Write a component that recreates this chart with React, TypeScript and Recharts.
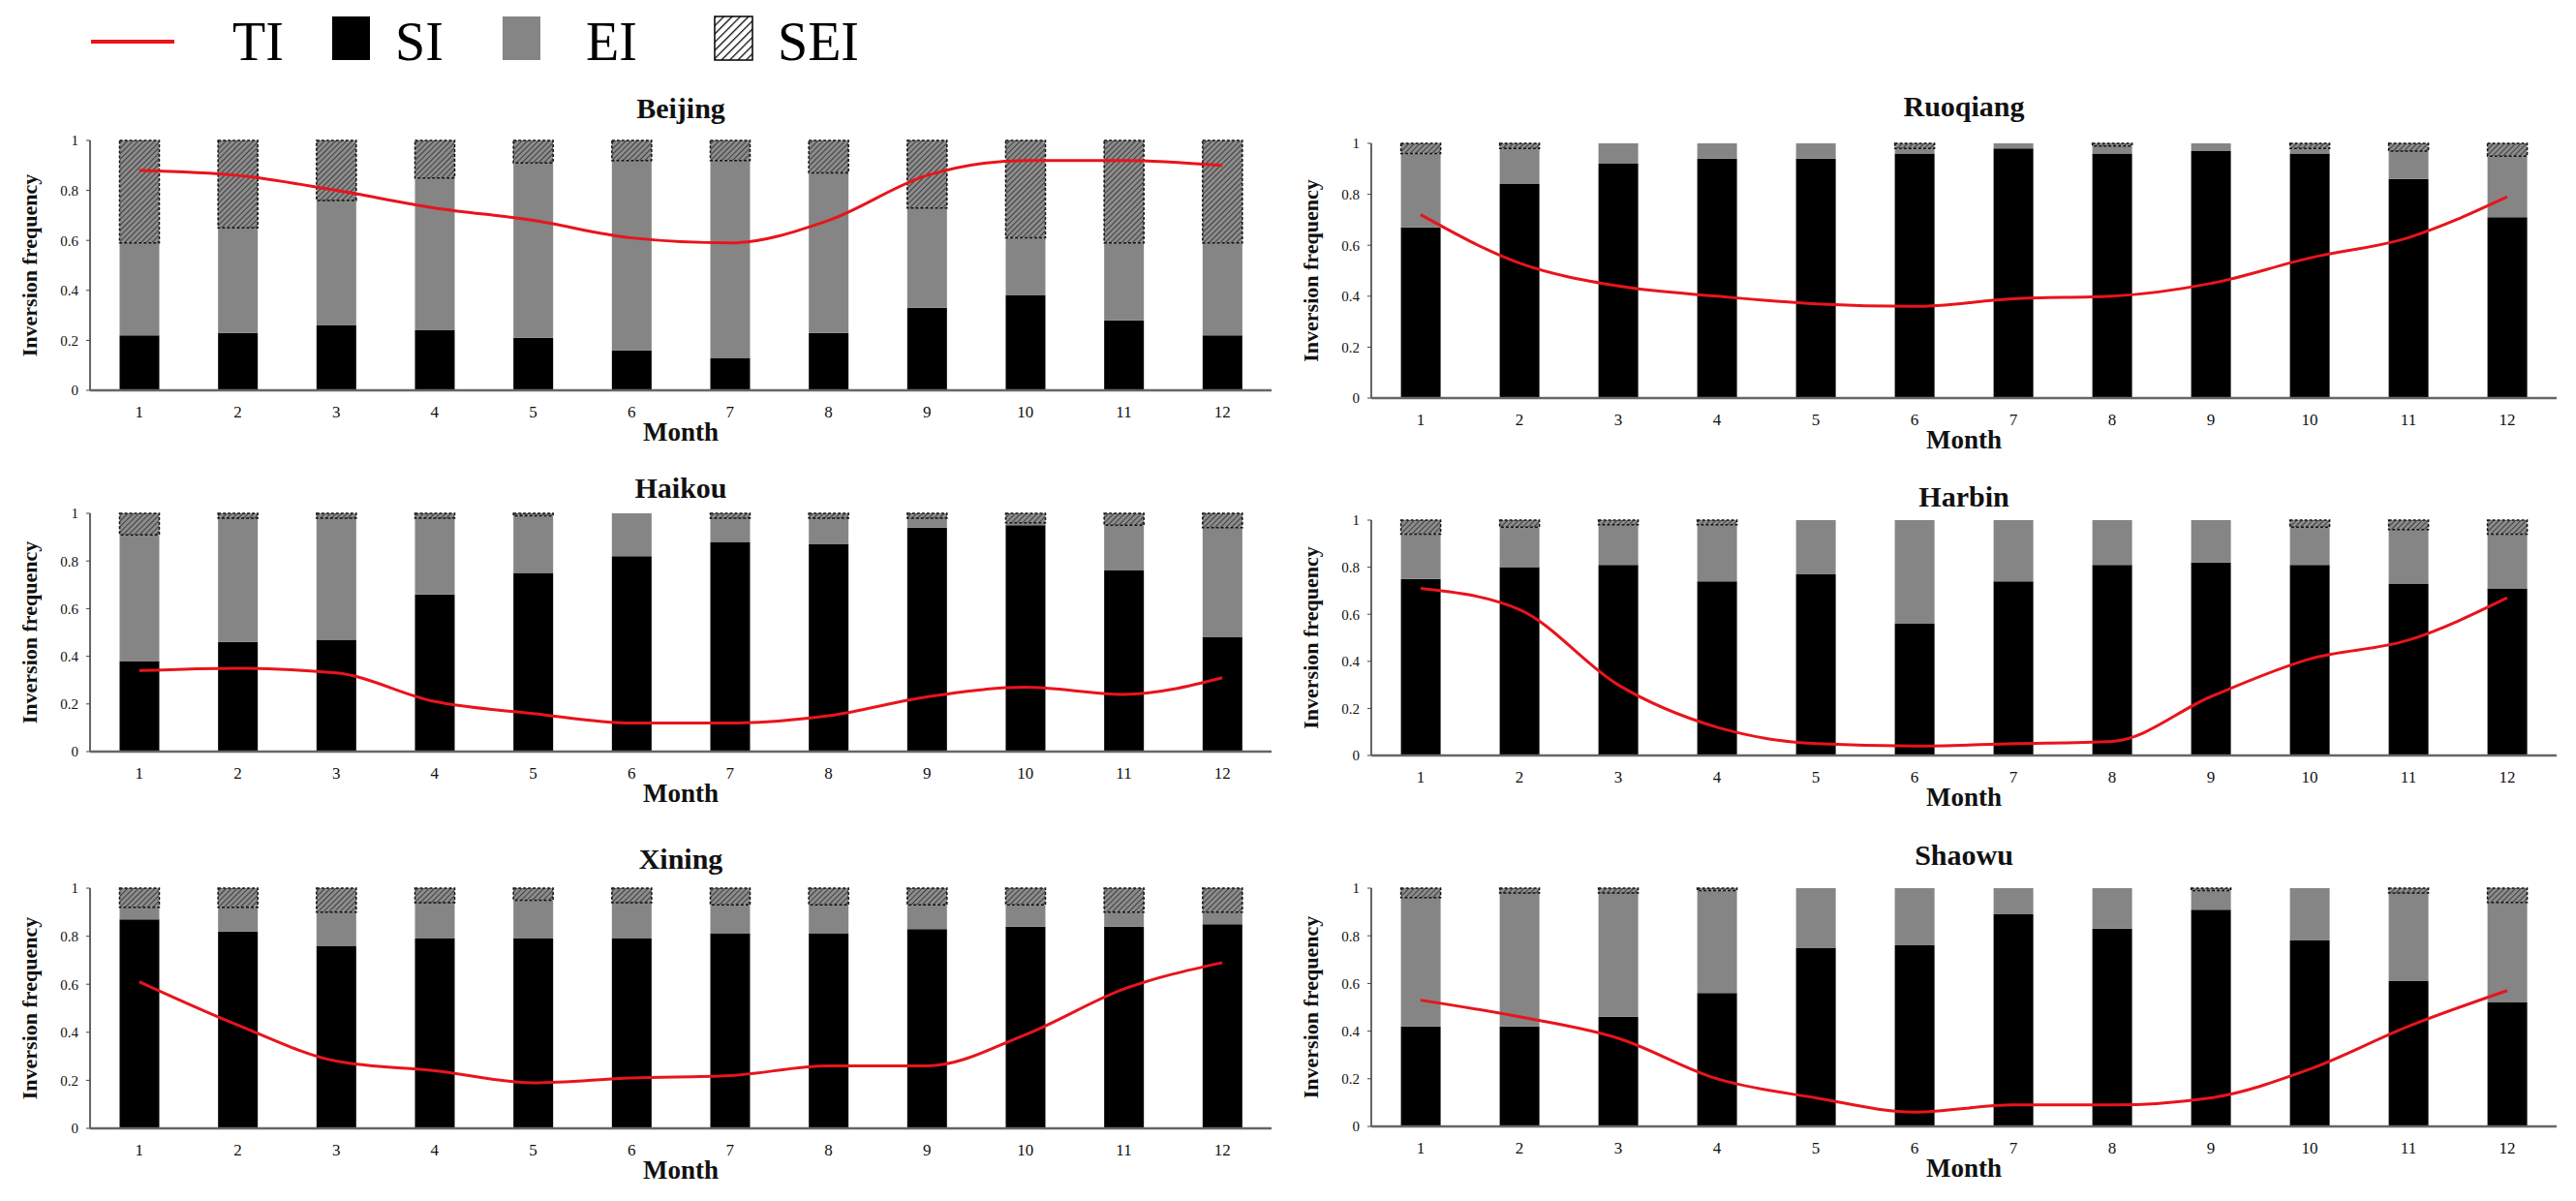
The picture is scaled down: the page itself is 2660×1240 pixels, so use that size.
import React from "react";
import { Bar, ComposedChart, Line, XAxis, YAxis } from "recharts";

const months = ["1", "2", "3", "4", "5", "6", "7", "8", "9", "10", "11", "12"];
const yTicks = [0, 0.2, 0.4, 0.6, 0.8, 1];

// SI / EI / SEI are stacked shares, TI is the red line
const beijingSI = [0.22, 0.23, 0.26, 0.24, 0.21, 0.16, 0.13, 0.23, 0.33, 0.38, 0.28, 0.22];
const beijingEI = [0.37, 0.42, 0.5, 0.61, 0.7, 0.76, 0.79, 0.64, 0.4, 0.23, 0.31, 0.37];
const beijingSEI = [0.41, 0.35, 0.24, 0.15, 0.09, 0.08, 0.08, 0.13, 0.27, 0.39, 0.41, 0.41];
const beijingTI = [0.88, 0.86, 0.8, 0.73, 0.68, 0.61, 0.59, 0.68, 0.86, 0.92, 0.92, 0.9];

const ruoqiangSI = [0.67, 0.84, 0.92, 0.94, 0.94, 0.96, 0.98, 0.96, 0.97, 0.96, 0.86, 0.71];
const ruoqiangEI = [0.29, 0.14, 0.08, 0.06, 0.06, 0.02, 0.02, 0.03, 0.03, 0.02, 0.11, 0.24];
const ruoqiangSEI = [0.04, 0.02, 0, 0, 0, 0.02, 0, 0.01, 0, 0.02, 0.03, 0.05];
const ruoqiangTI = [0.72, 0.53, 0.44, 0.4, 0.37, 0.36, 0.39, 0.4, 0.45, 0.55, 0.63, 0.79];

const haikouSI = [0.38, 0.46, 0.47, 0.66, 0.75, 0.82, 0.88, 0.87, 0.94, 0.95, 0.76, 0.48];
const haikouEI = [0.53, 0.52, 0.51, 0.32, 0.24, 0.18, 0.1, 0.11, 0.04, 0.01, 0.19, 0.46];
const haikouSEI = [0.09, 0.02, 0.02, 0.02, 0.01, 0, 0.02, 0.02, 0.02, 0.04, 0.05, 0.06];
const haikouTI = [0.34, 0.35, 0.33, 0.21, 0.16, 0.12, 0.12, 0.15, 0.23, 0.27, 0.24, 0.31];

const harbinSI = [0.75, 0.8, 0.81, 0.74, 0.77, 0.56, 0.74, 0.81, 0.82, 0.81, 0.73, 0.71];
const harbinEI = [0.19, 0.17, 0.17, 0.24, 0.23, 0.44, 0.26, 0.19, 0.18, 0.16, 0.23, 0.23];
const harbinSEI = [0.06, 0.03, 0.02, 0.02, 0, 0, 0, 0, 0, 0.03, 0.04, 0.06];
const harbinTI = [0.71, 0.62, 0.3, 0.12, 0.05, 0.04, 0.05, 0.06, 0.25, 0.41, 0.49, 0.67];

const xiningSI = [0.87, 0.82, 0.76, 0.79, 0.79, 0.79, 0.81, 0.81, 0.83, 0.84, 0.84, 0.85];
const xiningEI = [0.05, 0.1, 0.14, 0.15, 0.16, 0.15, 0.12, 0.12, 0.1, 0.09, 0.06, 0.05];
const xiningSEI = [0.08, 0.08, 0.1, 0.06, 0.05, 0.06, 0.07, 0.07, 0.07, 0.07, 0.1, 0.1];
const xiningTI = [0.61, 0.43, 0.28, 0.24, 0.19, 0.21, 0.22, 0.26, 0.26, 0.39, 0.58, 0.69];

const shaowuSI = [0.42, 0.42, 0.46, 0.56, 0.75, 0.76, 0.89, 0.83, 0.91, 0.78, 0.61, 0.52];
const shaowuEI = [0.54, 0.56, 0.52, 0.43, 0.25, 0.24, 0.11, 0.17, 0.08, 0.22, 0.37, 0.42];
const shaowuSEI = [0.04, 0.02, 0.02, 0.01, 0, 0, 0, 0, 0.01, 0, 0.02, 0.06];
const shaowuTI = [0.53, 0.46, 0.37, 0.2, 0.12, 0.06, 0.09, 0.09, 0.12, 0.24, 0.42, 0.57];

const SERIF = "'Liberation Serif', 'Times New Roman', serif";
const FRAME = "#666";
const RED = "#e8141c";
const GRAY = "#858585";
const Y_AXIS_W = 93;
const PAD_TOP = 10;
const PAD_RIGHT = 10;
const X_AXIS_H = 70;

// plot frames (left/top/width/height of the boxed area) and title centre line
const panels = [
  { city: "Beijing", si: beijingSI, ei: beijingEI, sei: beijingSEI, ti: beijingTI, x: 93, y: 145, w: 1220, h: 258, titleY: 112 },
  { city: "Ruoqiang", si: ruoqiangSI, ei: ruoqiangEI, sei: ruoqiangSEI, ti: ruoqiangTI, x: 1416, y: 148, w: 1224, h: 263, titleY: 110 },
  { city: "Haikou", si: haikouSI, ei: haikouEI, sei: haikouSEI, ti: haikouTI, x: 93, y: 530, w: 1220, h: 246, titleY: 504 },
  { city: "Harbin", si: harbinSI, ei: harbinEI, sei: harbinSEI, ti: harbinTI, x: 1416, y: 537, w: 1224, h: 243, titleY: 513 },
  { city: "Xining", si: xiningSI, ei: xiningEI, sei: xiningSEI, ti: xiningTI, x: 93, y: 917, w: 1220, h: 248, titleY: 887 },
  { city: "Shaowu", si: shaowuSI, ei: shaowuEI, sei: shaowuSEI, ti: shaowuTI, x: 1416, y: 917, w: 1224, h: 246, titleY: 883 },
];

function Legend() {
  return (
    <svg width={950} height={80} style={{ position: "absolute", left: 0, top: 0 }}>
      <defs>
        <pattern id="seiHatch" patternUnits="userSpaceOnUse" width={4} height={4} patternTransform="rotate(45)">
          <rect width={4} height={4} fill="#8c8c8c" />
          <line x1={0} y1={0} x2={0} y2={4} stroke="#2a2a2a" strokeWidth={1.6} />
        </pattern>
        <pattern id="seiHatchLegend" patternUnits="userSpaceOnUse" width={6} height={6} patternTransform="rotate(45)">
          <rect width={6} height={6} fill="#fff" />
          <line x1={0} y1={0} x2={0} y2={6} stroke="#000" strokeWidth={2.5} />
        </pattern>
      </defs>
      <line x1={94} y1={43} x2={180} y2={43} stroke={RED} strokeWidth={4} />
      <text x={240} y={62} fontFamily={SERIF} fontSize={56}>TI</text>
      <rect x={343} y={17} width={39} height={45} fill="#000" />
      <text x={408} y={62} fontFamily={SERIF} fontSize={56}>SI</text>
      <rect x={519} y={17} width={39} height={45} fill={GRAY} />
      <text x={605} y={62} fontFamily={SERIF} fontSize={56}>EI</text>
      <rect x={738} y={17} width={39} height={45} fill="url(#seiHatchLegend)" stroke="#000" strokeWidth={1.5} />
      <text x={803} y={62} fontFamily={SERIF} fontSize={56}>SEI</text>
    </svg>
  );
}

function CityPanel({ city, si, ei, sei, ti, x, y, w, h, titleY }) {
  const rows = months.map((m, i) => ({ month: m, SI: si[i], EI: ei[i], SEI: sei[i], TI: ti[i] }));
  const frameLine = { stroke: FRAME, strokeWidth: 2.5 };
  return (
    <>
      <div
        style={{
          position: "absolute",
          left: x,
          width: w,
          top: titleY - 18,
          height: 36,
          lineHeight: "36px",
          textAlign: "center",
          fontFamily: SERIF,
          fontWeight: "bold",
          fontSize: 30,
          color: "#111",
        }}
      >
        {city}
      </div>
      <div style={{ position: "absolute", left: x - Y_AXIS_W, top: y - PAD_TOP }}>
        <ComposedChart
          width={w + Y_AXIS_W + PAD_RIGHT}
          height={h + PAD_TOP + X_AXIS_H}
          data={rows}
          margin={{ top: PAD_TOP, right: PAD_RIGHT, bottom: 0, left: 0 }}
          barCategoryGap="30%"
        >
          <XAxis
            dataKey="month"
            interval={0}
            height={X_AXIS_H}
            axisLine={frameLine}
            tickLine={false}
            tickSize={0}
            tickMargin={16}
            tick={{ fontSize: 17, fill: "#111", fontFamily: SERIF }}
            label={{
              value: "Month",
              position: "insideBottom",
              offset: 18,
              fontSize: 27,
              fontWeight: "bold",
              fontFamily: SERIF,
              fill: "#111",
            }}
          />
          <XAxis xAxisId="top" dataKey="month" orientation="top" height={0} tick={false} tickLine={false} axisLine={frameLine} />
          <YAxis
            domain={[0, 1]}
            ticks={yTicks}
            width={Y_AXIS_W}
            axisLine={{ stroke: FRAME, strokeWidth: 2 }}
            tickLine={{ stroke: "#444" }}
            tickSize={4}
            tickMargin={8}
            tick={{ fontSize: 15, fill: "#111", fontFamily: SERIF }}
            label={{
              value: "Inversion frequency",
              angle: -90,
              position: "insideLeft",
              offset: 30,
              fontSize: 22,
              fontWeight: "bold",
              fontFamily: SERIF,
              fill: "#111",
              style: { textAnchor: "middle" },
            }}
          />
          <YAxis yAxisId="right" orientation="right" width={0} domain={[0, 1]} tick={false} tickLine={false} axisLine={{ stroke: FRAME, strokeWidth: 2 }} />
          <Bar dataKey="SI" stackId="s" fill="#000" isAnimationActive={false} />
          <Bar dataKey="EI" stackId="s" fill={GRAY} isAnimationActive={false} />
          <Bar
            dataKey="SEI"
            stackId="s"
            fill="url(#seiHatch)"
            stroke="#111"
            strokeWidth={1.5}
            strokeDasharray="3 2"
            isAnimationActive={false}
          />
          <Line dataKey="TI" type="monotone" stroke={RED} strokeWidth={3} dot={false} isAnimationActive={false} />
        </ComposedChart>
      </div>
    </>
  );
}

export default function App() {
  return (
    <div style={{ position: "absolute", left: 0, top: 0, width: 2660, height: 1240, background: "#fff" }}>
      <Legend />
      {panels.map((p) => (
        <CityPanel key={p.city} {...p} />
      ))}
    </div>
  );
}
